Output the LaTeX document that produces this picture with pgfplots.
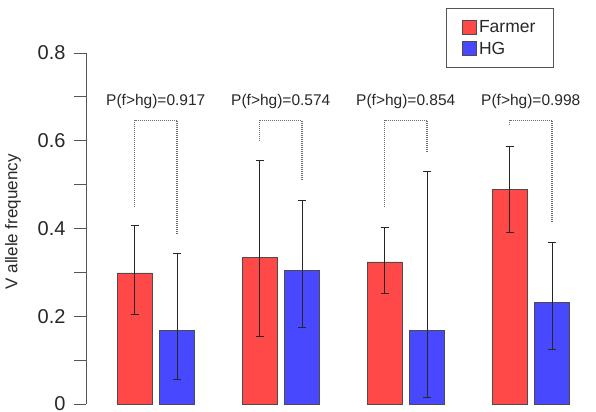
\documentclass[border=0pt]{standalone}
\usepackage{fontspec}
\setmainfont{Liberation Sans}
\usepackage{pgfplots}
\usepackage{pgfplotstable}
\pgfplotsset{compat=1.18}
\definecolor{farmer}{RGB}{255,72,72}
\definecolor{hg}{RGB}{72,72,255}
\definecolor{txt}{RGB}{40,40,40}
\definecolor{axc}{RGB}{85,85,85}
\definecolor{dotc}{RGB}{110,110,110}

\pgfplotstableread{
x y ep em
0.83 0.299 0.107 0.096
1.83 0.334 0.220 0.179
2.83 0.324 0.079 0.073
3.83 0.490 0.098 0.100
}\farmer
\pgfplotstableread{
x y ep em
1.17 0.167 0.175 0.110
2.17 0.305 0.158 0.130
3.17 0.167 0.362 0.153
4.17 0.232 0.137 0.107
}\hg

\begin{document}
\begin{tikzpicture}
\begin{axis}[
  scale only axis, width=510pt, height=351pt,
  xmin=0.442, xmax=4.522, ymin=0, ymax=0.8,
  clip=false,
  axis x line=none,
  axis y line*=left,
  axis line style={axc, line width=0.8pt},
  xtick=\empty,
  ytick={0,0.1,0.2,0.3,0.4,0.5,0.6,0.7,0.8},
  yticklabels={0,,0.2,,0.4,,0.6,,0.8},
  tick align=outside,
  major tick length=12pt,
  ytick style={axc, line width=0.8pt},
  yticklabel style={font=\fontsize{20}{23}\selectfont, text=txt, xshift=-5pt},
  legend style={at={(0.7059,1.1282)}, anchor=north west, draw=axc, line width=0.8pt,
    inner xsep=16pt, inner ysep=10pt, row sep=4pt,
    font=\fontsize{17.5}{20}\selectfont, text=txt,
    /tikz/every even column/.append style={column sep=7pt}},
  legend cell align=left,
]
\addplot[ybar, bar width=0.28, bar shift=0pt, fill=farmer, draw=black!70, line width=0.6pt, forget plot,
  error bars/.cd, y dir=both, y explicit,
  error bar style={black!85, line width=0.9pt},
  error mark options={rotate=90, mark size=4pt, black!85, line width=0.9pt}]
  table[x=x, y=y, y error plus=ep, y error minus=em]{\farmer};
\addplot[ybar, bar width=0.28, bar shift=0pt, fill=hg, draw=black!70, line width=0.6pt, forget plot,
  error bars/.cd, y dir=both, y explicit,
  error bar style={black!85, line width=0.9pt},
  error mark options={rotate=90, mark size=4pt, black!85, line width=0.9pt}]
  table[x=x, y=y, y error plus=ep, y error minus=em]{\hg};

% brackets
\addplot[dash pattern=on 1pt off 1pt, dotc, line width=1.1pt, forget plot] coordinates {(0.83,0.449) (0.83,0.647) (1.17,0.647) (1.17,0.388)};
\addplot[dash pattern=on 1pt off 1pt, dotc, line width=1.1pt, forget plot] coordinates {(1.83,0.599) (1.83,0.647) (2.17,0.647) (2.17,0.510)};
\addplot[dash pattern=on 1pt off 1pt, dotc, line width=1.1pt, forget plot] coordinates {(2.83,0.449) (2.83,0.647) (3.17,0.647) (3.17,0.574)};
\addplot[dash pattern=on 1pt off 1pt, dotc, line width=1.1pt, forget plot] coordinates {(3.83,0.636) (3.83,0.647) (4.17,0.647) (4.17,0.417)};

\addlegendimage{legend image code/.code={\draw[fill=farmer, draw=black!70, line width=0.6pt] (0pt,-7pt) rectangle (14pt,7pt);}}
\addlegendentry{Farmer}
\addlegendimage{legend image code/.code={\draw[fill=hg, draw=black!70, line width=0.6pt] (0pt,-7pt) rectangle (14pt,7pt);}}
\addlegendentry{HG}

\foreach \g/\p in {1/0.917, 2/0.574, 3/0.854, 4/0.998}{
  \edef\temp{\noexpand\node[font=\noexpand\fontsize{15.5}{18}\noexpand\selectfont, text=txt] at (axis cs:\g,0.6906) {P(f>hg)=\p};}
  \temp
}
\node[rotate=90, font=\fontsize{17}{20}\selectfont, text=txt] at (axis cs:-0.142,0.415) {V allele frequency};

\coordinate (bl) at (axis cs:-0.246,-0.01823);
\coordinate (tr) at (axis cs:4.522,0.9208);
\end{axis}
\pgfresetboundingbox
\useasboundingbox (bl) rectangle (tr);
\end{tikzpicture}
\end{document}
